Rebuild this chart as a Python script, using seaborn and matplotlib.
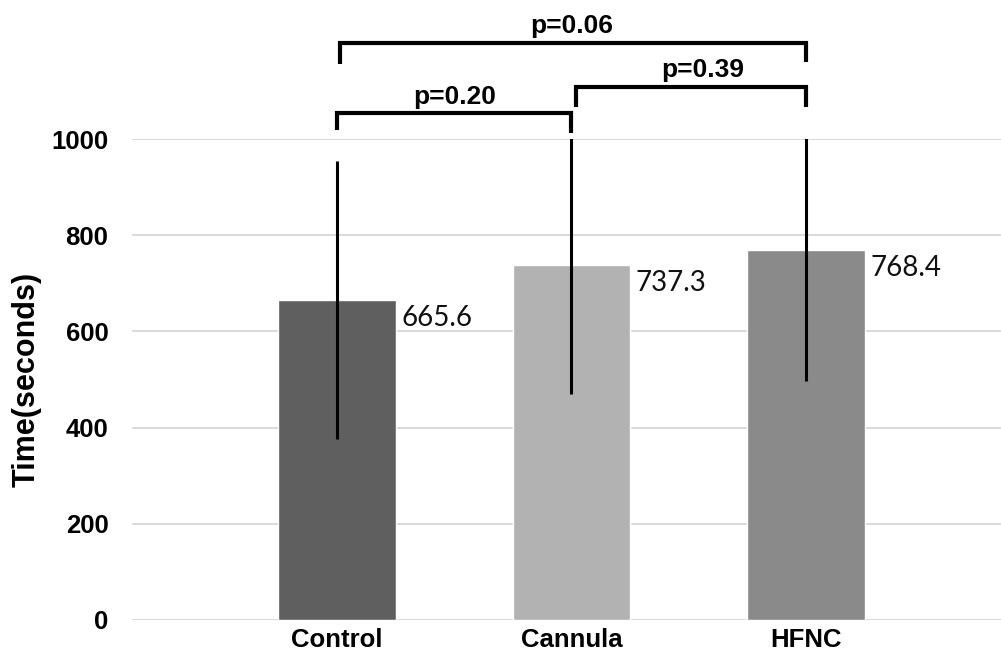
import matplotlib
matplotlib.use("Agg")
import matplotlib.pyplot as plt
import seaborn as sns
import pandas as pd

categories = ["Control", "Cannula", "HFNC"]
means = [665.6, 737.3, 768.4]
errors = [289, 267, 271]
colors = ["#5f5f5f", "#b2b2b2", "#8a8a8a"]
pairs = [(0, 1), (1, 2), (0, 2)]
p_labels = ["p=0.20", "p=0.39", "p=0.06"]
y_ticks = [0, 200, 400, 600, 800, 1000]

sns.set_theme(style="white")
plt.rcParams["font.family"] = ["Liberation Sans", "DejaVu Sans"]
plt.rcParams["text.color"] = "black"
plt.rcParams["axes.labelcolor"] = "black"
plt.rcParams["xtick.color"] = "black"
plt.rcParams["ytick.color"] = "black"

df = pd.DataFrame({"group": categories, "time": means})

fig = plt.figure(figsize=(10.01, 6.52), dpi=100)
ax = fig.add_axes([0.1319, 0.0491, 0.878, 0.7377])

sns.barplot(data=df, x="group", y="time", hue="group", palette=colors,
            width=0.5, errorbar=None, legend=False, ax=ax, saturation=1)

ax.errorbar(range(len(categories)), means, yerr=errors, fmt="none",
            ecolor="black", elinewidth=2.2, capsize=0, zorder=3)

ax.set_ylim(0, 1000)
ax.set_xlim(-0.874, 2.874)
ax.set_yticks(y_ticks)
ax.yaxis.grid(True, color="#d9d9d9", linewidth=1.4)
ax.set_axisbelow(True)
for s in ax.spines.values():
    s.set_visible(False)

ax.tick_params(axis="y", length=0, pad=17, labelsize=18.5, labelcolor="black")
ax.tick_params(axis="x", length=0, pad=6, labelsize=18.5, labelcolor="black")
for lab in ax.get_yticklabels() + ax.get_xticklabels():
    lab.set_fontweight("bold")
ax.set_xlabel("")
ax.set_ylabel("Time(seconds)", fontsize=22, fontweight="bold", labelpad=7,
              color="black")

# value labels
for i, m in enumerate(means):
    ax.annotate(f"{m}", xy=(i + 0.25, m), xytext=(4, -13), textcoords="offset points",
                ha="left", va="center", fontsize=20, family=["Lato", "DejaVu Sans"],
                fontweight="normal", color="#111111")

# significance brackets (heights in data units above the axis top)
bar_y = [1054, 1108, 1200]
left_drop = [1019, 1067, 1156]
right_drop = [1012, 1067, 1160]
x_off = [(0.0, 0.0), (0.02, 0.0), (0.013, 0.0)]
text_y = [1087, 1143, 1235]
for k, (a, b) in enumerate(pairs):
    xa = a + x_off[k][0]
    xb = b + x_off[k][1]
    ax.plot([xa, xa, xb, xb], [left_drop[k], bar_y[k], bar_y[k], right_drop[k]],
            color="black", lw=3, clip_on=False, solid_joinstyle="miter",
            solid_capstyle="butt")
    xm = (a + b) / 2
    if k == 1:
        xm = 1.56
    ax.text(xm, text_y[k], p_labels[k], ha="center", va="center",
            fontsize=19, fontweight="bold", clip_on=False, color="black")

fig.savefig("out.png", dpi=100)
